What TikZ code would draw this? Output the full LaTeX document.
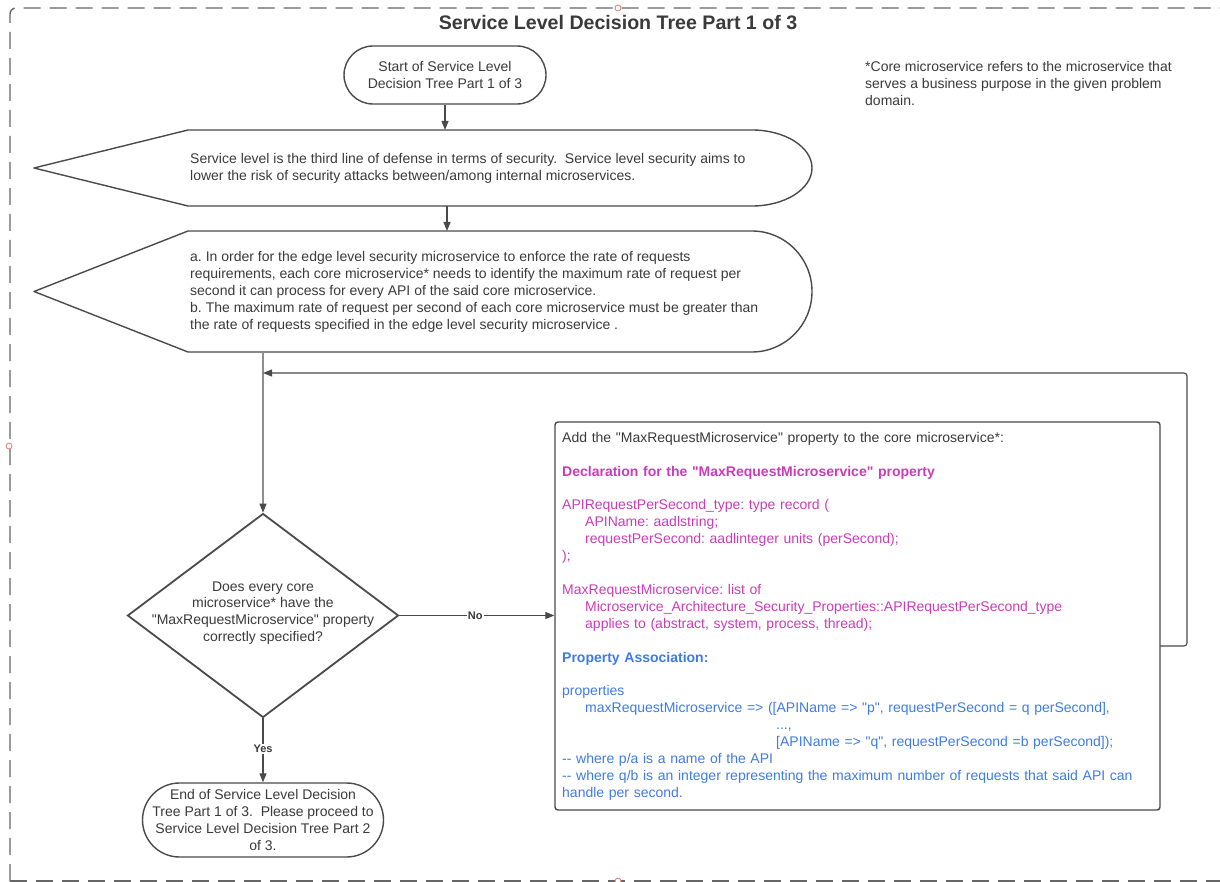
\documentclass[tikz,border=0pt]{standalone}
\usepackage{fontspec}
\setmainfont{Liberation Sans}
\usetikzlibrary{shapes.geometric,arrows.meta,calc}
\definecolor{ink}{HTML}{3A3A3A}
\definecolor{edge}{HTML}{4A4A4A}
\definecolor{faint}{HTML}{8E8E8E}
\definecolor{frame}{HTML}{666666}
\definecolor{decl}{HTML}{C83DB6}
\definecolor{assoc}{HTML}{3F7BE3}
\definecolor{handle}{HTML}{E07878}
% straight double quote glyph, set directly so no text mapping curls it
\newcommand{\dq}{\XeTeXglyph\XeTeXcharglyph"22\relax}
\frenchspacing

\begin{document}
\begin{tikzpicture}[x=1pt,y=-1pt,
  txt/.style={font=\fontsize{14}{16.9}\selectfont, text=ink, inner sep=0pt},
  outline/.style={draw=edge, line width=1.4pt, line join=round},
  terminal/.style={outline, txt, align=center, rectangle},
  decision/.style={draw=edge, line width=1.8pt, shape=diamond, inner sep=0pt},
  flowline/.style={draw=edge, line width=1.1pt, -{Triangle[length=9pt,width=7pt]}},
  branch/.style={font=\fontsize{11}{13}\selectfont\bfseries, text=ink, fill=white, inner sep=1pt},
  groupframe/.style={draw=frame, line width=1.4pt, dash pattern=on 17pt off 9pt, rounded corners=6pt},
  grip/.style={draw=handle, fill=white, line width=0.8pt}
]
\useasboundingbox (0,0) rectangle (1220,882);
\clip (0,0) rectangle (1220,882);

% surrounding group frame and its handles
\draw[groupframe] (10,881) -- (10,8) -- (1240,8);
\draw[groupframe, rounded corners=0pt] (10,881) -- (1240,881);
\draw[grip] (618,8) circle[radius=3];
\draw[grip] (9,446) circle[radius=3];
\draw[grip] (618,881) circle[radius=3];

% title and footnote
\node[font=\fontsize{19.6}{22}\selectfont\bfseries, text=ink] (title) at (618,23) {Service Level Decision Tree Part 1 of 3};
\node[txt, anchor=north west, align=left] (note) at (865,61)
  {*Core microservice refers to the microservice that\\serves a business purpose in the given problem\\domain.};

% start terminal
\node[terminal, minimum width=202pt, minimum height=58pt, rounded corners=29pt] (start) at (445,75)
  {Start of Service Level\\Decision Tree Part 1 of 3};

% first display block
\draw[outline] (34,168) -- (188,130) -- (752,130)
  arc[start angle=-90, end angle=90, x radius=60, y radius=38] -- (188,206) -- cycle;
\coordinate (s1top) at (445,130);
\coordinate (s1bot) at (447,206);
\node[txt, anchor=west, align=left] (s1text) at (190,168)
  {Service level is the third line of defense in terms of security.\ \ Service level security aims to\\
   lower the risk of security attacks between/among internal microservices.};

% second display block
\draw[outline] (34,291.5) -- (188,231) -- (752,231)
  arc[start angle=-90, end angle=90, x radius=60, y radius=60.5] -- (188,352) -- cycle;
\coordinate (s2top) at (447,231);
\coordinate (s2bot) at (263,352);
\node[txt, anchor=west, align=left] (s2text) at (190,292)
  {a. In order for the edge level security microservice to enforce the rate of requests\\
   requirements, each core microservice* needs to identify the maximum rate of request per\\
   second it can process for every API of the said core microservice.\\
   b. The maximum rate of request per second of each core microservice must be greater than\\
   the rate of requests specified in the edge level security microservice .};

% decision
\node[decision, minimum width=271pt, minimum height=204pt] (q) at (263,615.5) {};
\node[txt, align=center] (qtext) at (263,613)
  {Does every core\\microservice* have the\\\dq MaxRequestMicroservice\dq{} property\\correctly specified?};

% end terminal
\node[terminal, minimum width=241pt, minimum height=74pt, rounded corners=37pt] (finish) at (263,820)
  {End of Service Level Decision\\Tree Part 1 of 3.\ \ Please proceed to\\Service Level Decision Tree Part 2\\of 3.};

% property box
\node[draw=edge, line width=1.4pt, rounded corners=3pt, minimum width=605pt, minimum height=388pt, inner sep=0pt] (box) at (857.5,616) {};
\node[txt, anchor=north west, align=left, text width=600pt] (boxtext) at (562,432)
  {Add the \dq MaxRequestMicroservice\dq{} property to the core microservice*:\\[16.9pt]
   \textcolor{decl}{\bfseries Declaration for the \dq MaxRequestMicroservice\dq{} property}\\[16.9pt]
   \textcolor{decl}{APIRequestPerSecond\_type: type record (}\\
   \textcolor{decl}{\hspace*{23pt}APIName: aadlstring;}\\
   \textcolor{decl}{\hspace*{23pt}requestPerSecond: aadlinteger units (perSecond);}\\
   \textcolor{decl}{);}\\[16.9pt]
   \textcolor{decl}{MaxRequestMicroservice: list of}\\
   \textcolor{decl}{\hspace*{23pt}Microservice\_Architecture\_Security\_Properties::APIRequestPerSecond\_type}\\
   \textcolor{decl}{\hspace*{23pt}applies to (abstract, system, process, thread);}\\[16.9pt]
   \textcolor{assoc}{\bfseries Property Association:}\\[16.9pt]
   \textcolor{assoc}{properties}\\
   \textcolor{assoc}{\hspace*{23pt}maxRequestMicroservice => ([APIName => \dq p\dq, requestPerSecond = q perSecond],}\\
   \textcolor{assoc}{\hspace*{214pt}...,}\\
   \textcolor{assoc}{\hspace*{214pt}[APIName => \dq q\dq, requestPerSecond =b perSecond]);}\\
   \textcolor{assoc}{-{}- where p/a is a name of the API}\\
   \textcolor{assoc}{-{}- where q/b is an integer representing the maximum number of requests that said API can}\\
   \textcolor{assoc}{handle per second.}};

% connectors
\coordinate (loopout) at (1160,646);
\coordinate (loopin) at (263,373);
\draw[flowline] (start.south) -- (s1top);
\draw[flowline] (s1bot) -- (s2top);
\draw[flowline, draw=faint, -{Triangle[length=9pt,width=7pt,color=edge]}] (s2bot) -- (q.north);
\draw[flowline] (q.east) -- (q.east -| box.west) node[branch, pos=0.49] (nolabel) {No};
\draw[flowline] (q.south) -- (finish.north) node[branch, pos=0.48] (yeslabel) {Yes};
\draw[flowline, rounded corners=3pt] (loopout) -- (1187,646) -- (1187,373) -- (loopin);
\end{tikzpicture}
\end{document}
